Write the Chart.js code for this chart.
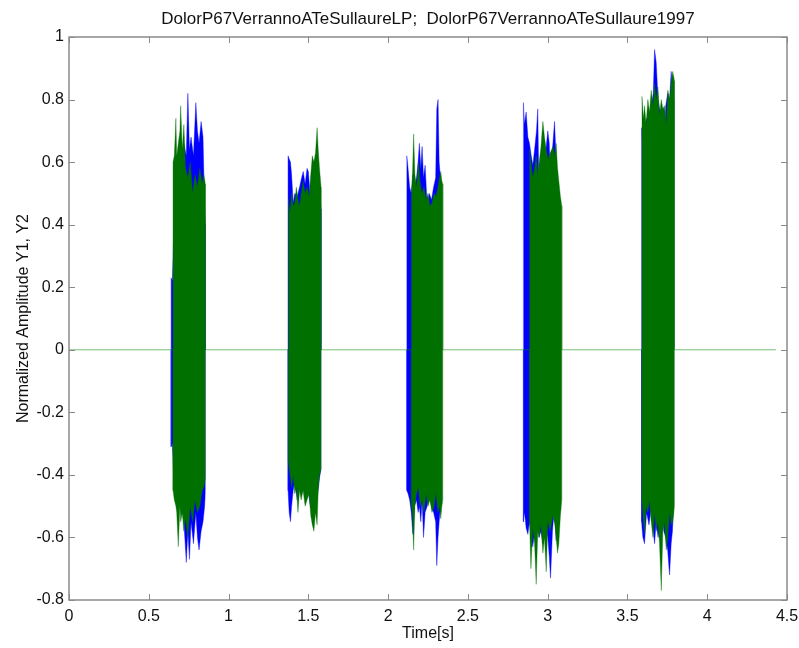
<!DOCTYPE html>
<html>
<head>
<meta charset="utf-8">
<script src="https://cdn.jsdelivr.net/npm/chart.js@4.4.0/dist/chart.umd.min.js"></script>
<style>
  html, body { margin: 0; padding: 0; background: #fff; }
  #wrap { width: 799px; height: 648px; }
</style>
</head>
<body>
<div id="wrap"><canvas id="chartWave" width="799" height="648"></canvas></div>
<script>
// signal span (s) and axis ticks
const signalStart = 0;
const signalEnd = 4.43;
const xTickValues = [0, 0.5, 1, 1.5, 2, 2.5, 3, 3.5, 4, 4.5];
const xTickLabels = ['0', '0.5', '1', '1.5', '2', '2.5', '3', '3.5', '4', '4.5'];
const yTickValues = [-0.8, -0.6, -0.4, -0.2, 0, 0.2, 0.4, 0.6, 0.8, 1];
const yTickLabels = ['-0.8', '-0.6', '-0.4', '-0.2', '0', '0.2', '0.4', '0.6', '0.8', '1'];

// Y2 (verde) - envelope por burst: tempo, pico superior, pico inferior
const greenTimes = [
  [0.652, 0.660, 0.670, 0.675, 0.685, 0.695, 0.700, 0.710, 0.720, 0.730, 0.745, 0.760, 0.775, 0.790, 0.805, 0.820, 0.835, 0.845, 0.855],
  [1.375, 1.385, 1.395, 1.405, 1.415, 1.425, 1.435, 1.445, 1.455, 1.467, 1.480, 1.492, 1.505, 1.515, 1.525, 1.535, 1.545, 1.555, 1.562, 1.570, 1.580],
  [2.145, 2.152, 2.160, 2.168, 2.178, 2.190, 2.200, 2.212, 2.225, 2.238, 2.250, 2.262, 2.275, 2.288, 2.300, 2.312, 2.322, 2.330, 2.337, 2.343],
  [2.886, 2.895, 2.907, 2.918, 2.928, 2.938, 2.947, 2.958, 2.970, 2.980, 2.991, 3.001, 3.016, 3.033, 3.045, 3.053, 3.062, 3.070, 3.080, 3.089],
  [3.591, 3.600, 3.607, 3.617, 3.628, 3.638, 3.649, 3.660, 3.670, 3.680, 3.691, 3.701, 3.712, 3.722, 3.732, 3.743, 3.753, 3.765, 3.775, 3.784, 3.795]
];
const greenHigh = [
  [0.60, 0.62, 0.74, 0.62, 0.66, 0.70, 0.78, 0.64, 0.72, 0.58, 0.55, 0.60, 0.50, 0.56, 0.52, 0.58, 0.53, 0.56, 0.53],
  [0.48, 0.44, 0.50, 0.46, 0.47, 0.52, 0.48, 0.46, 0.50, 0.54, 0.50, 0.52, 0.49, 0.56, 0.62, 0.60, 0.63, 0.71, 0.64, 0.58, 0.52],
  [0.49, 0.55, 0.69, 0.56, 0.52, 0.60, 0.54, 0.50, 0.52, 0.48, 0.50, 0.46, 0.47, 0.50, 0.49, 0.52, 0.55, 0.57, 0.54, 0.53],
  [0.64, 0.60, 0.55, 0.58, 0.62, 0.56, 0.60, 0.65, 0.73, 0.68, 0.64, 0.61, 0.63, 0.65, 0.62, 0.66, 0.58, 0.54, 0.49, 0.46],
  [0.81, 0.74, 0.78, 0.72, 0.80, 0.76, 0.83, 0.78, 0.85, 0.80, 0.84, 0.75, 0.80, 0.77, 0.78, 0.72, 0.83, 0.80, 0.86, 0.89, 0.86]
];
const greenLow = [
  [-0.45, -0.48, -0.50, -0.52, -0.63, -0.50, -0.55, -0.52, -0.58, -0.54, -0.60, -0.50, -0.55, -0.48, -0.52, -0.50, -0.45, -0.44, -0.41],
  [-0.36, -0.40, -0.44, -0.40, -0.46, -0.44, -0.52, -0.45, -0.48, -0.45, -0.50, -0.48, -0.46, -0.53, -0.56, -0.58, -0.52, -0.56, -0.45, -0.40, -0.38],
  [-0.50, -0.52, -0.64, -0.50, -0.46, -0.44, -0.50, -0.48, -0.52, -0.46, -0.50, -0.48, -0.52, -0.50, -0.46, -0.52, -0.50, -0.54, -0.50, -0.48],
  [-0.55, -0.70, -0.57, -0.62, -0.75, -0.58, -0.60, -0.56, -0.65, -0.60, -0.71, -0.55, -0.58, -0.53, -0.56, -0.60, -0.65, -0.62, -0.53, -0.48],
  [-0.48, -0.55, -0.59, -0.50, -0.52, -0.48, -0.55, -0.60, -0.52, -0.58, -0.55, -0.62, -0.77, -0.58, -0.55, -0.64, -0.60, -0.52, -0.56, -0.55, -0.50]
];

// Y1 (azul)
const blueTimes = [
  [0.640, 0.648, 0.660, 0.680, 0.700, 0.720, 0.735, 0.745, 0.755, 0.765, 0.780, 0.795, 0.805, 0.815, 0.828, 0.840, 0.850, 0.855],
  [1.373, 1.380, 1.388, 1.395, 1.405, 1.415, 1.430, 1.445, 1.458, 1.468, 1.480, 1.492, 1.500, 1.512, 1.530, 1.550, 1.570, 1.580],
  [2.117, 2.125, 2.135, 2.145, 2.155, 2.165, 2.178, 2.188, 2.196, 2.205, 2.213, 2.222, 2.232, 2.245, 2.258, 2.272, 2.285, 2.298, 2.305, 2.313, 2.320, 2.328, 2.335],
  [2.848, 2.855, 2.865, 2.876, 2.886, 2.897, 2.907, 2.918, 2.930, 2.938, 2.945, 2.958, 2.970, 2.985, 3.001, 3.010, 3.018, 3.030, 3.043, 3.053, 3.060],
  [3.588, 3.597, 3.607, 3.620, 3.635, 3.650, 3.662, 3.670, 3.680, 3.692, 3.705, 3.718, 3.728, 3.740, 3.752, 3.764, 3.774, 3.782, 3.790]
];
const blueHigh = [
  [0.23, 0.22, 0.45, 0.55, 0.60, 0.66, 0.62, 0.82, 0.64, 0.68, 0.62, 0.79, 0.70, 0.66, 0.73, 0.68, 0.45, 0.40],
  [0.62, 0.61, 0.60, 0.56, 0.47, 0.50, 0.49, 0.52, 0.55, 0.57, 0.53, 0.58, 0.57, 0.49, 0.55, 0.60, 0.50, 0.45],
  [0.62, 0.58, 0.52, 0.50, 0.56, 0.52, 0.55, 0.60, 0.66, 0.58, 0.65, 0.55, 0.59, 0.46, 0.50, 0.48, 0.52, 0.55, 0.77, 0.80, 0.60, 0.55, 0.50],
  [0.79, 0.72, 0.76, 0.68, 0.66, 0.62, 0.59, 0.64, 0.70, 0.77, 0.52, 0.60, 0.67, 0.62, 0.70, 0.66, 0.52, 0.64, 0.73, 0.61, 0.55],
  [0.71, 0.65, 0.70, 0.74, 0.70, 0.78, 0.82, 0.96, 0.92, 0.80, 0.76, 0.72, 0.65, 0.78, 0.82, 0.80, 0.89, 0.84, 0.80]
];
const blueLow = [
  [-0.31, -0.30, -0.45, -0.50, -0.48, -0.55, -0.68, -0.58, -0.67, -0.55, -0.62, -0.52, -0.60, -0.64, -0.58, -0.55, -0.50, -0.45],
  [-0.45, -0.52, -0.55, -0.50, -0.45, -0.42, -0.48, -0.42, -0.46, -0.44, -0.46, -0.44, -0.45, -0.50, -0.52, -0.50, -0.41, -0.38],
  [-0.45, -0.46, -0.48, -0.52, -0.59, -0.50, -0.48, -0.52, -0.50, -0.55, -0.48, -0.60, -0.52, -0.50, -0.46, -0.50, -0.52, -0.55, -0.69, -0.60, -0.55, -0.50, -0.48],
  [-0.55, -0.52, -0.57, -0.59, -0.55, -0.60, -0.63, -0.58, -0.62, -0.55, -0.60, -0.58, -0.62, -0.56, -0.60, -0.66, -0.73, -0.58, -0.50, -0.61, -0.50],
  [-0.55, -0.60, -0.62, -0.52, -0.56, -0.50, -0.58, -0.62, -0.55, -0.60, -0.56, -0.52, -0.58, -0.60, -0.64, -0.72, -0.62, -0.58, -0.50]
];

const chartTitle = 'DolorP67VerrannoATeSullaureLP;  DolorP67VerrannoATeSullaure1997';
const FONT = 'Arial, "Liberation Sans", sans-serif';

// monta pontos {x,y} com zero entre os bursts
function buildTrace(times, values) {
    const pts = [{ x: signalStart, y: 0 }];
    times.forEach((burst, b) => {
        const n = Math.min(burst.length, values[b].length);
        pts.push({ x: burst[0], y: 0 });
        for (let i = 0; i < n; i++) pts.push({ x: burst[i], y: values[b][i] });
        pts.push({ x: burst[n - 1], y: 0 });
    });
    pts.push({ x: signalEnd, y: 0 });
    return pts;
}

// trecho em zero: visível só no verde (o azul fica por baixo)
const zeroSegment = (color, zeroColor) => ctx =>
    (ctx.p0.parsed.y === 0 && ctx.p1.parsed.y === 0) ? zeroColor : color;

// título centrado sobre a área do gráfico + moldura com ticks internos
const matlabFrame = {
    id: 'matlabFrame',
    afterDatasetsDraw(chart) {
        const { ctx, chartArea: a, scales } = chart;
        ctx.save();
        ctx.strokeStyle = '#8a8a8a';
        ctx.lineWidth = 1.5;
        ctx.strokeRect(a.left, a.top, a.right - a.left, a.bottom - a.top);
        ctx.lineWidth = 1;
        ctx.beginPath();
        xTickValues.forEach(v => {
            const px = Math.round(scales.x.getPixelForValue(v)) + 0.5;
            ctx.moveTo(px, a.bottom); ctx.lineTo(px, a.bottom - 6);
            ctx.moveTo(px, a.top); ctx.lineTo(px, a.top + 6);
        });
        yTickValues.forEach(v => {
            const py = Math.round(scales.y.getPixelForValue(v)) + 0.5;
            ctx.moveTo(a.left, py); ctx.lineTo(a.left + 6, py);
            ctx.moveTo(a.right, py); ctx.lineTo(a.right - 6, py);
        });
        ctx.stroke();
        ctx.restore();
    },
    afterDraw(chart) {
        const { ctx, chartArea: a } = chart;
        ctx.save();
        ctx.fillStyle = '#111';
        ctx.font = '17px ' + FONT;
        ctx.textAlign = 'center';
        ctx.textBaseline = 'alphabetic';
        ctx.fillText(chartTitle, (a.left + a.right) / 2, 24);
        ctx.restore();
    }
};

function initWaveChart() {
    const ctx = document.getElementById('chartWave').getContext('2d');
    const greenEdge = 'rgba(0,112,0,0.35)';
    const greenZero = 'rgba(0,140,0,0.3)';
    const blueEdge = 'rgba(0,0,255,0.4)';
    new Chart(ctx, {
        type: 'line',
        data: {
            datasets: [
                {   // Y2 superior
                    data: buildTrace(greenTimes, greenHigh),
                    borderColor: greenEdge,
                    segment: { borderColor: zeroSegment(greenEdge, greenZero) },
                    backgroundColor: '#007000',
                    borderWidth: 1,
                    fill: '+1'
                },
                {   // Y2 inferior
                    data: buildTrace(greenTimes, greenLow),
                    borderColor: greenEdge,
                    segment: { borderColor: zeroSegment(greenEdge, greenZero) },
                    borderWidth: 1,
                    fill: false
                },
                {   // Y1 superior
                    data: buildTrace(blueTimes, blueHigh),
                    borderColor: blueEdge,
                    segment: { borderColor: zeroSegment(blueEdge, 'rgba(0,0,0,0)') },
                    backgroundColor: '#0000ff',
                    borderWidth: 1,
                    fill: '+1'
                },
                {   // Y1 inferior
                    data: buildTrace(blueTimes, blueLow),
                    borderColor: blueEdge,
                    segment: { borderColor: zeroSegment(blueEdge, 'rgba(0,0,0,0)') },
                    borderWidth: 1,
                    fill: false
                }
            ]
        },
        options: {
            responsive: false,
            animation: false,
            devicePixelRatio: 1,
            elements: { point: { radius: 0 }, line: { tension: 0 } },
            layout: { padding: { top: 37, right: 12, left: 14, bottom: 5 } },
            plugins: {
                legend: { display: false },
                tooltip: { enabled: false },
                title: { display: false }
            },
            scales: {
                x: {
                    type: 'linear',
                    min: 0,
                    max: 4.5,
                    afterBuildTicks: s => { s.ticks = xTickValues.map(v => ({ value: v })); },
                    afterFit: s => { s.height = 43; s.paddingLeft = 0; s.paddingRight = 0; },
                    grid: { display: false, drawTicks: false },
                    border: { display: false },
                    ticks: {
                        autoSkip: false,
                        maxRotation: 0,
                        padding: 7,
                        color: '#111',
                        font: { family: FONT, size: 16 },
                        callback: (v, i) => xTickLabels[i]
                    },
                    title: {
                        display: true,
                        text: 'Time[s]',
                        color: '#111',
                        font: { family: FONT, size: 16 },
                        padding: { top: 0, bottom: 0 }
                    }
                },
                y: {
                    type: 'linear',
                    min: -0.8,
                    max: 1,
                    afterBuildTicks: s => { s.ticks = yTickValues.map(v => ({ value: v })); },
                    afterFit: s => { s.width = 55; s.paddingTop = 0; s.paddingBottom = 0; },
                    grid: { display: false, drawTicks: false },
                    border: { display: false },
                    ticks: {
                        autoSkip: false,
                        padding: 5,
                        color: '#111',
                        font: { family: FONT, size: 16 },
                        callback: (v, i) => yTickLabels[i]
                    },
                    title: {
                        display: true,
                        text: 'Normalized Amplitude Y1, Y2',
                        color: '#111',
                        font: { family: FONT, size: 16 },
                        padding: { top: 0, bottom: 0 }
                    }
                }
            }
        },
        plugins: [matlabFrame]
    });
}

window.addEventListener('DOMContentLoaded', () => {
    initWaveChart();
});
</script>
</body>
</html>
